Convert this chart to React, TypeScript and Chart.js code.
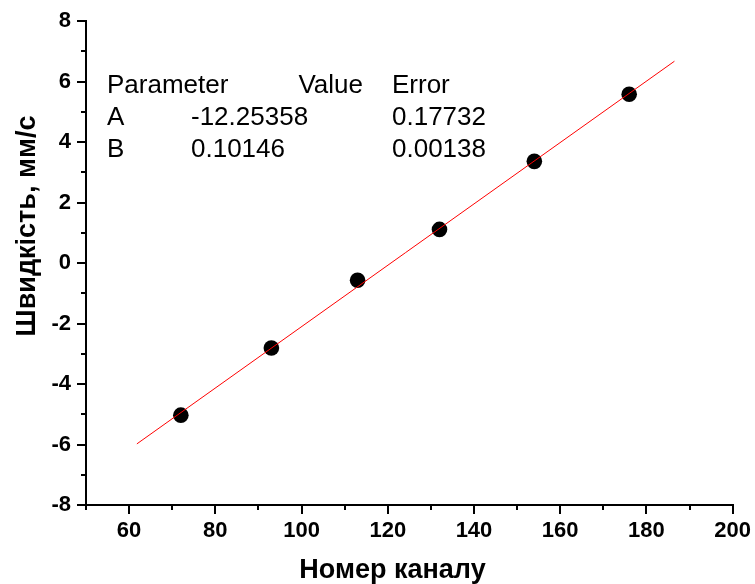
import React, { useEffect, useRef } from 'react';
import { Chart, registerables } from 'chart.js';

Chart.register(...registerables);

const channelNumbers = [72, 93, 113, 132, 154, 176];
const velocities = [-5.03, -2.81, -0.57, 1.11, 3.36, 5.58];
const fitX = [61.8, 186.5];
const fitY = [-5.98, 6.67];
const xTitle = 'Номер каналу';
const yTitle = 'Швидкість, мм/с';
const tableHeader = ['Parameter', 'Value', 'Error'];
const paramNames = ['A', 'B'];
const paramValues = ['-12.25358', '0.10146'];
const paramErrors = ['0.17732', '0.00138'];
const xMinorTicks = [50, 70, 90, 110, 130, 150, 170, 190];
const yMinorTicks = [-7, -5, -3, -1, 1, 3, 5, 7];

const FONT = '"Liberation Sans", Arial, sans-serif';

const overlayPlugin = {
  id: 'overlay',
  afterDraw(chart: any) {
    const { ctx, chartArea, scales } = chart;
    const xs = scales.x;
    const ys = scales.y;
    ctx.save();
    // minor ticks
    ctx.strokeStyle = '#000';
    ctx.lineWidth = 2;
    ctx.beginPath();
    xMinorTicks.forEach((v) => {
      const px = Math.round(xs.getPixelForValue(v));
      ctx.moveTo(px, chartArea.bottom);
      ctx.lineTo(px, chartArea.bottom + 5);
    });
    yMinorTicks.forEach((v) => {
      const py = Math.round(ys.getPixelForValue(v));
      ctx.moveTo(chartArea.left, py);
      ctx.lineTo(chartArea.left - 5, py);
    });
    ctx.stroke();

    // axis titles
    ctx.fillStyle = '#000';
    ctx.font = 'bold 27px ' + FONT;
    ctx.textBaseline = 'alphabetic';
    ctx.textAlign = 'center';
    ctx.fillText(xTitle, 392.5, 578);
    ctx.save();
    ctx.translate(35, 226);
    ctx.rotate(-Math.PI / 2);
    ctx.fillText(yTitle, 0, 0);
    ctx.restore();

    // parameter table
    const L = chartArea.left;
    const T = chartArea.top;
    ctx.font = '26px ' + FONT;
    ctx.textAlign = 'left';
    ctx.fillText(tableHeader[0], L + 21, T + 72);
    ctx.textAlign = 'right';
    ctx.fillText(tableHeader[1], L + 277, T + 72);
    ctx.textAlign = 'left';
    ctx.fillText(tableHeader[2], L + 306, T + 72);
    paramNames.forEach((n, i) => {
      const by = T + 104 + i * 32;
      ctx.fillText(n, L + 21, by);
      ctx.fillText(paramValues[i], L + 105, by);
      ctx.fillText(paramErrors[i], L + 306, by);
    });
    ctx.restore();
  },
};

export default function App() {
  const ref = useRef<HTMLCanvasElement | null>(null);
  useEffect(() => {
    if (!ref.current) return;
    const chart = new Chart(ref.current, {
      type: 'scatter',
      data: {
        datasets: [
          {
            type: 'line',
            data: fitX.map((x, i) => ({ x, y: fitY[i] })),
            borderColor: '#ff0000',
            borderWidth: 1,
            pointRadius: 0,
            fill: false,
            order: 0,
          } as any,
          {
            type: 'scatter',
            data: channelNumbers.map((x, i) => ({ x, y: velocities[i] })),
            backgroundColor: '#000',
            borderColor: '#000',
            borderWidth: 0,
            pointRadius: 7.8,
            order: 1,
          },
        ],
      },
      options: {
        responsive: false,
        animation: false,
        layout: { padding: { left: 0, right: 22, top: 21, bottom: 0 } },
        plugins: { legend: { display: false }, tooltip: { enabled: false } },
        scales: {
          x: {
            type: 'linear',
            min: 50,
            max: 200,
            afterFit: (s: any) => { s.height = 79; },
            grid: {
              display: true,
              drawOnChartArea: false,
              drawTicks: true,
              tickLength: 9,
              tickWidth: 2,
              lineWidth: 2,
              tickColor: (c: any) => (c.tick && c.tick.value % 20 === 0 ? '#000' : 'rgba(0,0,0,0)'),
            },
            border: { display: true, color: '#000', width: 2 },
            ticks: {
              stepSize: 10,
              autoSkip: false,
              maxRotation: 0,
              padding: 4,
              color: '#000',
              font: { family: FONT, size: 22, weight: 'bold' },
              callback: (v: any) => (Number(v) % 20 === 0 ? String(v) : ''),
            },
          },
          y: {
            type: 'linear',
            min: -8,
            max: 8,
            afterFit: (s: any) => { s.width = 86; },
            grid: {
              display: true,
              drawOnChartArea: false,
              drawTicks: true,
              tickLength: 9,
              tickWidth: 2,
              lineWidth: 2,
              tickColor: (c: any) => (c.tick && c.tick.value % 2 === 0 ? '#000' : 'rgba(0,0,0,0)'),
            },
            border: { display: true, color: '#000', width: 2 },
            ticks: {
              stepSize: 1,
              autoSkip: false,
              padding: 6,
              color: '#000',
              font: { family: FONT, size: 22, weight: 'bold' },
              callback: (v: any) => (Number(v) % 2 === 0 ? String(v) : ''),
            },
          },
        },
      },
      plugins: [overlayPlugin],
    });
    return () => chart.destroy();
  }, []);
  return (
    <div style={{ position: 'fixed', left: 0, top: 0, width: 755, height: 584, background: '#fff' }}>
      <canvas ref={ref} width={755} height={584} style={{ display: 'block' }} />
    </div>
  );
}
